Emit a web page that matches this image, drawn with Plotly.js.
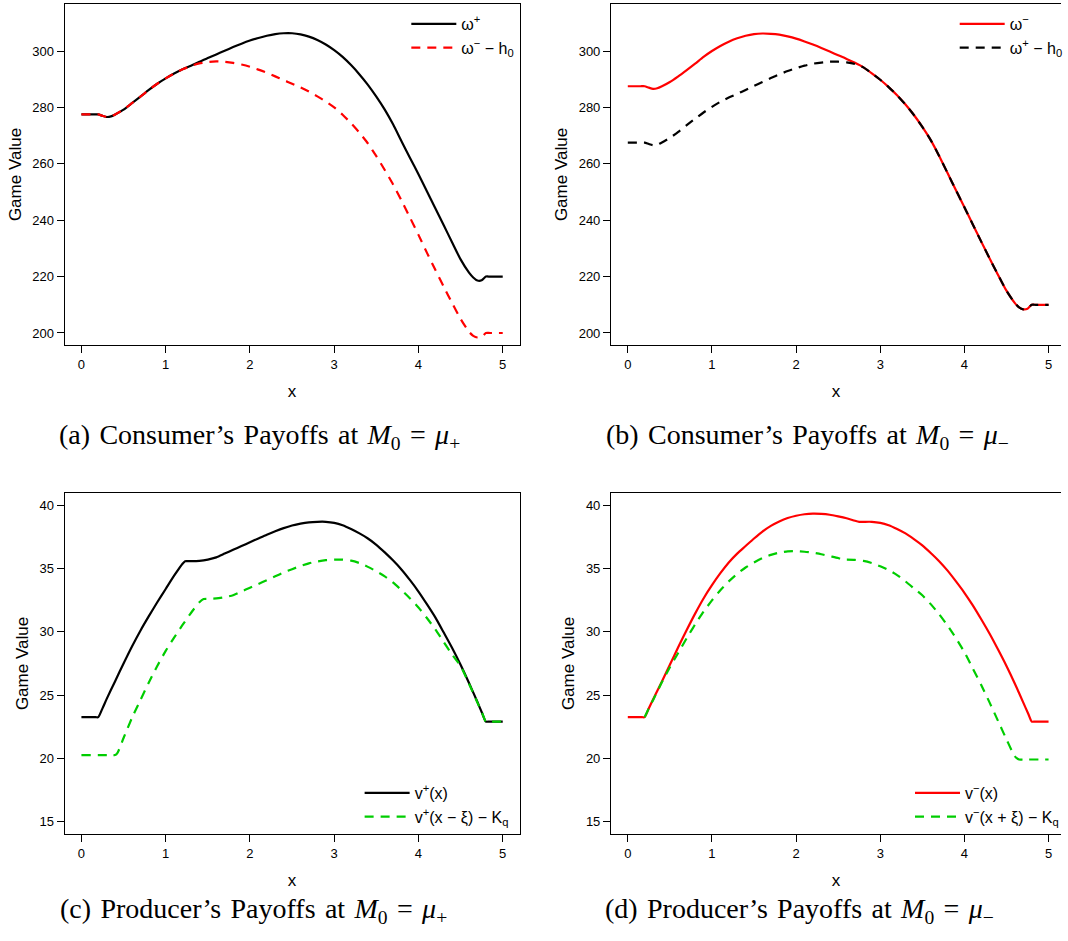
<!DOCTYPE html>
<html>
<head>
<meta charset="utf-8">
<script src="https://cdn.plot.ly/plotly-3.0.1.min.js"></script>
<style>html,body{margin:0;padding:0;background:#fff;}#chart{width:1068px;height:941px;}</style>
</head>
<body>
<div id="chart"></div>
<script>
// ---------- DATA ----------
// Panels (a) and (b): common x grid
const xTop = [0, 0.15, 0.2, 0.25, 0.3, 0.35, 0.4, 0.5, 0.6, 0.7, 0.8, 0.9, 1.0, 1.1, 1.2, 1.3, 1.4, 1.5, 1.6, 1.7, 1.8, 1.9, 2.0, 2.1, 2.2, 2.3, 2.4, 2.5, 2.6, 2.7, 2.8, 2.9, 3.0, 3.1, 3.2, 3.3, 3.4, 3.5, 3.6, 3.7, 3.8, 3.9, 4.0, 4.1, 4.2, 4.3, 4.4, 4.5, 4.6, 4.65, 4.7, 4.75, 4.8, 4.85, 5.0];

// (a) omega+  (solid black)
const aOmegaPlus = [277.5, 277.5, 277.5, 277.0, 276.6, 276.8, 277.5, 279.2, 281.5, 283.8, 286.2, 288.4, 290.3, 292.0, 293.5, 294.8, 296.2, 297.5, 298.8, 300.1, 301.4, 302.6, 303.7, 304.6, 305.4, 306.0, 306.3, 306.3, 305.9, 305.1, 303.9, 302.3, 300.3, 297.9, 295.0, 291.7, 288.0, 283.8, 279.2, 273.9, 267.9, 262.1, 256.3, 250.3, 244.2, 238.2, 232.1, 226.1, 221.4, 219.7, 218.6, 218.7, 220.0, 220.0, 220.0];
// (a) omega- - h0  (dashed red)
const aOmegaMinusH0 = [277.5, 277.5, 277.5, 277.0, 276.6, 276.8, 277.5, 279.2, 281.5, 283.8, 286.2, 288.4, 290.3, 292.0, 293.5, 294.7, 295.6, 296.1, 296.3, 296.2, 295.8, 295.2, 294.4, 293.4, 292.3, 291.0, 289.7, 288.4, 287.1, 285.6, 283.9, 282.1, 280.0, 277.4, 274.4, 271.0, 267.2, 262.7, 257.8, 252.6, 246.9, 240.9, 234.8, 228.5, 222.4, 216.4, 210.6, 205.0, 200.4, 199.0, 198.4, 198.6, 200.0, 200.0, 200.0];

// (b) omega-  (solid red)
const bOmegaMinus = [287.5, 287.5, 287.5, 287.0, 286.6, 286.8, 287.4, 289.0, 291.0, 293.2, 295.5, 297.9, 300.0, 301.8, 303.3, 304.5, 305.4, 306.0, 306.2, 306.1, 305.8, 305.2, 304.4, 303.4, 302.3, 301.1, 299.8, 298.5, 297.2, 295.8, 294.2, 292.1, 289.8, 287.2, 284.3, 281.0, 277.3, 273.1, 268.4, 262.8, 256.7, 250.6, 244.6, 238.5, 232.4, 226.4, 220.6, 215.0, 210.6, 209.1, 208.4, 208.6, 210.0, 210.0, 210.0];
// (b) omega+ - h0  (dashed black)
const bOmegaPlusH0 = [267.5, 267.5, 267.5, 267.0, 266.6, 266.8, 267.5, 269.2, 271.3, 273.7, 276.0, 278.2, 280.2, 282.0, 283.5, 284.8, 286.2, 287.6, 289.0, 290.4, 291.7, 292.9, 293.9, 294.8, 295.5, 295.9, 296.2, 296.2, 296.0, 295.4, 294.2, 292.1, 289.8, 287.2, 284.3, 281.0, 277.3, 273.1, 268.4, 262.8, 256.7, 250.6, 244.6, 238.5, 232.4, 226.4, 220.6, 215.0, 210.6, 209.1, 208.4, 208.6, 210.0, 210.0, 210.0];

// (c) v+(x)  (solid black)
const cVPlusX = [0, 0.17, 0.2, 0.25, 0.3, 0.4, 0.5, 0.6, 0.7, 0.8, 0.9, 1.0, 1.1, 1.2, 1.23, 1.27, 1.3, 1.4, 1.5, 1.6, 1.7, 1.8, 1.9, 2.0, 2.1, 2.2, 2.3, 2.4, 2.5, 2.6, 2.7, 2.8, 2.9, 3.0, 3.1, 3.2, 3.3, 3.4, 3.5, 3.6, 3.7, 3.8, 3.9, 4.0, 4.1, 4.2, 4.3, 4.4, 4.5, 4.6, 4.7, 4.76, 4.8, 4.84, 5.0];
const cVPlus = [23.25, 23.25, 23.25, 23.95, 24.7, 26.1, 27.5, 28.85, 30.1, 31.25, 32.35, 33.4, 34.45, 35.4, 35.6, 35.6, 35.6, 35.63, 35.73, 35.9, 36.2, 36.5, 36.8, 37.1, 37.4, 37.7, 37.97, 38.22, 38.43, 38.58, 38.68, 38.72, 38.72, 38.64, 38.45, 38.15, 37.8, 37.4, 36.9, 36.3, 35.65, 34.93, 34.1, 33.2, 32.2, 31.15, 29.95, 28.73, 27.4, 25.96, 24.45, 23.5, 22.9, 22.9, 22.9];
// (c) v+(x - xi) - Kq  (dashed green)
const cShiftX = [0, 0.37, 0.4, 0.43, 0.5, 0.6, 0.7, 0.8, 0.9, 1.0, 1.1, 1.2, 1.3, 1.4, 1.45, 1.5, 1.6, 1.7, 1.8, 1.9, 2.0, 2.1, 2.2, 2.3, 2.4, 2.5, 2.6, 2.7, 2.8, 2.9, 3.0, 3.1, 3.2, 3.3, 3.4, 3.5, 3.6, 3.7, 3.8, 3.9, 4.0, 4.1, 4.2, 4.3, 4.4, 4.5, 4.6, 4.7, 4.76, 4.8, 4.84, 5.0];
const cShift = [20.25, 20.25, 20.25, 20.45, 21.6, 23.2, 24.6, 26.0, 27.3, 28.5, 29.55, 30.55, 31.5, 32.35, 32.6, 32.62, 32.65, 32.75, 32.9, 33.2, 33.5, 33.8, 34.1, 34.4, 34.7, 34.97, 35.22, 35.43, 35.58, 35.68, 35.72, 35.72, 35.64, 35.45, 35.15, 34.8, 34.4, 33.9, 33.3, 32.65, 31.93, 31.1, 30.2, 29.2, 28.2, 27.3, 25.9, 24.4, 23.5, 22.9, 22.9, 22.9];

// (d) v-(x)  (solid red)
const dVMinusX = [0, 0.17, 0.2, 0.25, 0.3, 0.4, 0.5, 0.6, 0.7, 0.8, 0.9, 1.0, 1.1, 1.2, 1.3, 1.4, 1.5, 1.6, 1.7, 1.8, 1.9, 2.0, 2.1, 2.2, 2.3, 2.4, 2.5, 2.6, 2.7, 2.75, 2.8, 2.9, 3.0, 3.1, 3.2, 3.3, 3.4, 3.5, 3.6, 3.7, 3.8, 3.9, 4.0, 4.1, 4.2, 4.3, 4.4, 4.5, 4.6, 4.7, 4.76, 4.8, 4.84, 5.0];
const dVMinus = [23.25, 23.25, 23.25, 23.95, 24.65, 26.0, 27.4, 28.8, 30.15, 31.45, 32.65, 33.7, 34.65, 35.5, 36.2, 36.8, 37.4, 37.95, 38.4, 38.75, 39.02, 39.2, 39.32, 39.37, 39.35, 39.28, 39.15, 39.0, 38.8, 38.72, 38.72, 38.72, 38.64, 38.45, 38.15, 37.8, 37.35, 36.85, 36.25, 35.6, 34.85, 34.0, 33.1, 32.1, 31.0, 29.85, 28.6, 27.3, 25.9, 24.4, 23.5, 22.9, 22.9, 22.9];
// (d) v-(x + xi) - Kq  (dashed green)
const dShiftX = [0.2, 0.25, 0.3, 0.4, 0.5, 0.6, 0.7, 0.8, 0.9, 1.0, 1.1, 1.2, 1.3, 1.4, 1.5, 1.6, 1.7, 1.8, 1.9, 2.0, 2.1, 2.2, 2.3, 2.4, 2.5, 2.55, 2.6, 2.7, 2.8, 2.9, 3.0, 3.1, 3.2, 3.3, 3.4, 3.5, 3.6, 3.7, 3.8, 3.9, 4.0, 4.1, 4.2, 4.3, 4.4, 4.5, 4.6, 4.65, 4.7, 5.0];
const dShift = [23.25, 23.95, 24.6, 25.95, 27.2, 28.35, 29.5, 30.6, 31.6, 32.5, 33.3, 34.0, 34.6, 35.1, 35.5, 35.85, 36.1, 36.28, 36.38, 36.4, 36.35, 36.27, 36.15, 36.0, 35.85, 35.72, 35.72, 35.7, 35.62, 35.45, 35.2, 34.9, 34.5, 34.0, 33.45, 32.9, 32.2, 31.4, 30.5, 29.5, 28.4, 27.1, 25.8, 24.4, 22.95, 21.5, 20.15, 19.9, 19.9, 19.9];

// Tick values / labels
const xTicks = [0, 1, 2, 3, 4, 5];
const yTicksTop = [200, 220, 240, 260, 280, 300];
const yTicksBottom = [15, 20, 25, 30, 35, 40];

// Legend names
const namesA = ['ω<sup>+</sup>', 'ω<sup>−</sup> − h<sub>0</sub>'];
const namesB = ['ω<sup>−</sup>', 'ω<sup>+</sup> − h<sub>0</sub>'];
const namesC = ['v<sup>+</sup>(x)', 'v<sup>+</sup>(x − ξ) − K<sub>q</sub>'];
const namesD = ['v<sup>−</sup>(x)', 'v<sup>−</sup>(x + ξ) − K<sub>q</sub>'];

// Captions
const SP = '\u2004', EQ = '\u2004=\u2004';
const captions = [
  '(a)' + SP + 'Consumer’s' + SP + 'Payoffs' + SP + 'at' + SP + '<i>M</i><sub>0</sub>' + EQ + '<i>μ</i><sub>+</sub>',
  '(b)' + SP + 'Consumer’s' + SP + 'Payoffs' + SP + 'at' + SP + '<i>M</i><sub>0</sub>' + EQ + '<i>μ</i><sub>−</sub>',
  '(c)' + SP + 'Producer’s' + SP + 'Payoffs' + SP + 'at' + SP + '<i>M</i><sub>0</sub>' + EQ + '<i>μ</i><sub>+</sub>',
  '(d)' + SP + 'Producer’s' + SP + 'Payoffs' + SP + 'at' + SP + '<i>M</i><sub>0</sub>' + EQ + '<i>μ</i><sub>−</sub>'
];

// ---------- STYLE / LAYOUT ----------
const W = 1068, H = 941;
const BLACK = '#000000', RED = '#FF0000', GREEN = '#00CD00';
const DASH = '9px,7px';
const LW = 2.2;
const sans = 'Liberation Sans, Arial, Helvetica, sans-serif';

function px2x(p) { return p / W; }
function px2y(p) { return 1 - p / H; }

function line(x, y, name, color, dashed, xa, ya, leg) {
  return {
    type: 'scatter', mode: 'lines', x: x, y: y, name: name,
    xaxis: xa, yaxis: ya, legend: leg,
    line: {color: color, width: LW, dash: dashed ? DASH : 'solid', shape: 'spline', smoothing: 0.6},
    hoverinfo: 'skip'
  };
}

const traces = [
  line(xTop, aOmegaPlus, namesA[0], BLACK, false, 'x', 'y', 'legend'),
  line(xTop, aOmegaMinusH0, namesA[1], RED, true, 'x', 'y', 'legend'),
  line(xTop, bOmegaMinus, namesB[0], RED, false, 'x2', 'y2', 'legend2'),
  line(xTop, bOmegaPlusH0, namesB[1], BLACK, true, 'x2', 'y2', 'legend2'),
  line(cVPlusX, cVPlus, namesC[0], BLACK, false, 'x3', 'y3', 'legend3'),
  line(cShiftX, cShift, namesC[1], GREEN, true, 'x3', 'y3', 'legend3'),
  line(dVMinusX, dVMinus, namesD[0], RED, false, 'x4', 'y4', 'legend4'),
  line(dShiftX, dShift, namesD[1], GREEN, true, 'x4', 'y4', 'legend4')
];

const tickFont = {family: sans, size: 13, color: '#000'};
const titleFont = {family: sans, size: 17, color: '#000'};

function xAxis(domPx, range, anchor) {
  return {
    domain: [px2x(domPx[0]), Math.min(1, px2x(domPx[1]))],
    range: range, anchor: anchor,
    tickvals: xTicks, ticktext: xTicks.map(String),
    ticks: 'outside', ticklen: 7, tickwidth: 1, tickcolor: '#000',
    showline: true, linecolor: '#000', linewidth: 1, mirror: true,
    showgrid: false, zeroline: false, tickfont: tickFont,
    title: {text: 'x', font: titleFont, standoff: 14},
    automargin: false, fixedrange: true
  };
}
function yAxis(domPx, range, anchor, ticks, mirror) {
  return {
    domain: [px2y(domPx[1]), px2y(domPx[0])],
    range: range, anchor: anchor,
    tickvals: ticks, ticktext: ticks.map(String),
    ticks: 'outside', ticklen: 7, tickwidth: 1, tickcolor: '#000',
    showline: true, linecolor: '#000', linewidth: 1, mirror: mirror,
    showgrid: false, zeroline: false, tickfont: tickFont,
    title: {text: 'Game Value', font: titleFont, standoff: 6},
    automargin: false, fixedrange: true
  };
}

const topY = [4, 345], botY = [493, 834];
const leftX = [65, 523], rightX = [615, 1068];
const topRange = [195.74, 316.67], botRange = [14, 41];
const xRangeL = [-0.2, 5.2], xRangeR = [-0.2, 5.148];

function legendAt(leftPx, topPx) {
  return {
    x: px2x(leftPx), y: px2y(topPx), xref: 'paper', yref: 'paper',
    xanchor: 'left', yanchor: 'top',
    bgcolor: 'rgba(0,0,0,0)', borderwidth: 0,
    font: {family: sans, size: 16, color: '#000'},
    itemwidth: 45, tracegroupgap: 0, traceorder: 'normal',
    itemclick: false, itemdoubleclick: false
  };
}

const capFont = {family: 'Liberation Serif, Times New Roman, serif', size: 28, color: '#000'};
function caption(text, cx, cy) {
  return {text: text, x: px2x(cx), y: px2y(cy), xref: 'paper', yref: 'paper',
          xanchor: 'center', yanchor: 'middle', showarrow: false, font: capFont};
}

const layout = {
  width: W, height: H,
  margin: {l: 0, r: 0, t: 0, b: 0},
  paper_bgcolor: '#fff', plot_bgcolor: '#fff',
  showlegend: true,
  xaxis: xAxis(leftX, xRangeL, 'y'),
  yaxis: yAxis(topY, topRange, 'x', yTicksTop, true),
  xaxis2: xAxis(rightX, xRangeR, 'y2'),
  yaxis2: yAxis(topY, topRange, 'x2', yTicksTop, false),
  xaxis3: xAxis(leftX, xRangeL, 'y3'),
  yaxis3: yAxis(botY, botRange, 'x3', yTicksBottom, true),
  xaxis4: xAxis(rightX, xRangeR, 'y4'),
  yaxis4: yAxis(botY, botRange, 'x4', yTicksBottom, false),
  legend: legendAt(409, 7),
  legend2: legendAt(961, 7),
  legend3: legendAt(362, 776),
  legend4: legendAt(916, 776),
  annotations: [
    caption(captions[0], 261, 436),
    caption(captions[1], 813, 436),
    caption(captions[2], 255, 910),
    caption(captions[3], 805, 910)
  ]
};

Plotly.newPlot('chart', traces, layout, {displayModeBar: false, staticPlot: true});
</script>
</body>
</html>
